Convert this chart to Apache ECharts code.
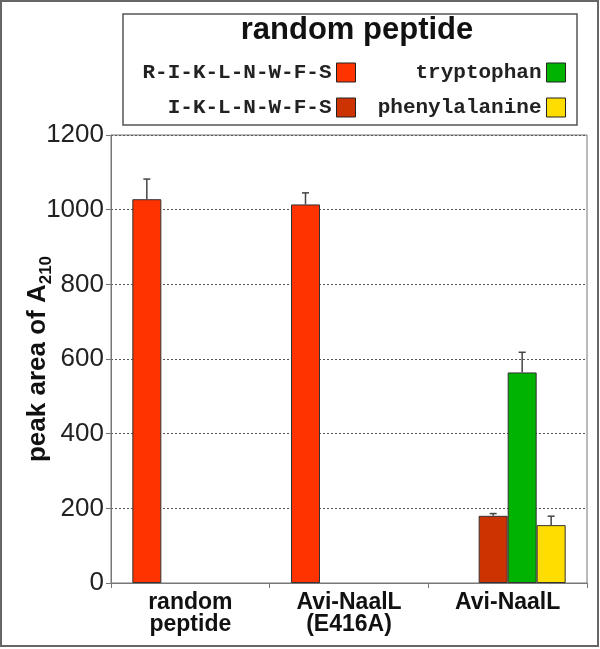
<!DOCTYPE html>
<html><head><meta charset="utf-8">
<script src="https://cdn.jsdelivr.net/npm/echarts@6/dist/echarts.min.js"></script>
<style>html,body{margin:0;padding:0;background:#fff}#c{width:600px;height:649px}</style>
</head><body><div id="c"></div>
<script>
const categories = ['random\npeptide', 'Avi-NaalL\n(E416A)', 'Avi-NaalL'];
const seriesNames = ['R-I-K-L-N-W-F-S', 'I-K-L-N-W-F-S', 'tryptophan', 'phenylalanine'];
const seriesColors = ['#ff3300', '#cc3300', '#00b300', '#ffdd00'];
const rikValues = [1028, 1014, null];
const iklValues = [null, null, 180];
const trpValues = [null, null, 564];
const pheValues = [null, null, 155];
const rikErrTop = [1082, 1045, null];
const iklErrTop = [null, null, 186];
const trpErrTop = [null, null, 618];
const pheErrTop = [null, null, 179];
const yTicks = [0, 200, 400, 600, 800, 1000, 1200];

const values = [rikValues, iklValues, trpValues, pheValues];
const errTops = [rikErrTop, iklErrTop, trpErrTop, pheErrTop];
const BAR_W = 29;

const errData = [];
errTops.forEach((arr, s) => arr.forEach((t, c) => {
  if (t != null) errData.push([c, values[s][c], t, s]);
}));

const chart = echarts.init(document.getElementById('c'), null, {renderer: 'canvas'});

const legendPos = [
  {right: 244, top: 62}, {right: 244, top: 97}, {right: 34, top: 62}, {right: 34, top: 97}
];

const option = {
  animation: false,
  backgroundColor: '#fff',
  grid: {left: 111, right: 13, top: 135, bottom: 66, show: true, borderColor: '#777', borderWidth: 1},
  legend: seriesNames.map((n, i) => ({
    data: [n], orient: 'horizontal', align: 'right', padding: 0,
    right: legendPos[i].right, top: legendPos[i].top,
    itemWidth: 19, itemHeight: 19, itemGap: 0,
    icon: 'rect',
    itemStyle: {borderColor: '#222', borderWidth: 1},
    textStyle: {fontFamily: 'Liberation Mono', fontWeight: 'bold', fontSize: 21, color: '#222', lineHeight: 19},
    selectedMode: false
  })),
  xAxis: {
    type: 'category', data: categories,
    axisLine: {lineStyle: {color: '#777', width: 1}},
    axisTick: {show: true, alignWithLabel: false, length: 5, lineStyle: {color: '#777'}},
    axisLabel: {fontFamily: 'Liberation Sans', fontWeight: 'bold', fontSize: 23, color: '#111', lineHeight: 22, margin: 9, interval: 0}
  },
  yAxis: {
    type: 'value', min: 0, max: 1200, interval: 200,
    name: '{a|peak area of A}{s|210}', nameLocation: 'middle', nameGap: 60, nameMoveOverlap: false,
    nameTextStyle: {
      rich: {
        a: {fontFamily: 'Liberation Sans', fontWeight: 'bold', fontSize: 26, color: '#111', lineHeight: 28, verticalAlign: 'bottom'},
        s: {fontFamily: 'Liberation Sans', fontWeight: 'bold', fontSize: 17, color: '#111', lineHeight: 18, verticalAlign: 'bottom', padding: [0, 0, -4, 0]}
      }
    },
    axisLine: {show: true, lineStyle: {color: '#777', width: 1}},
    axisTick: {show: true, length: 5, lineStyle: {color: '#777'}},
    axisLabel: {fontFamily: 'Liberation Sans', fontSize: 26, color: '#222', margin: 7,
      formatter: v => yTicks.includes(v) ? String(v) : ''},
    splitLine: {show: true, lineStyle: {color: '#555', type: [2, 2], width: 1}}
  },
  series: [
    ...seriesNames.map((n, i) => ({
      name: n, type: 'bar', data: values[i], barWidth: BAR_W, barGap: '0%',
      itemStyle: {color: seriesColors[i], borderColor: '#333', borderWidth: 1},
      z: 3
    })),
    {
      type: 'custom', data: errData, z: 4, silent: true,
      renderItem: (params, api) => {
        const c = api.value(0), v = api.value(1), t = api.value(2), s = api.value(3);
        const base = api.coord([c, v]);
        const top = api.coord([c, t]);
        const x = base[0] + (s - 1.5) * BAR_W;
        const cap = 3.5;
        const st = {stroke: '#444', lineWidth: 1.5};
        return {type: 'group', children: [
          {type: 'line', shape: {x1: x, y1: base[1], x2: x, y2: top[1]}, style: st},
          {type: 'line', shape: {x1: x - cap, y1: top[1], x2: x + cap, y2: top[1]}, style: st}
        ]};
      }
    }
  ],
  graphic: [
    {type: 'rect', shape: {x: 1, y: 1, width: 597, height: 645}, style: {fill: 'none', stroke: '#666', lineWidth: 2}, silent: true},
    {type: 'rect', shape: {x: 123, y: 14, width: 454, height: 111}, style: {fill: 'none', stroke: '#555', lineWidth: 1.5}, silent: true},
    {type: 'text', x: 357, y: 46, style: {text: 'random peptide', fontFamily: 'Liberation Sans', fontWeight: 'bold', fontSize: 31, fill: '#111', textAlign: 'center', textVerticalAlign: 'bottom'}, silent: true}
  ]
};
chart.setOption(option);
</script></body></html>
